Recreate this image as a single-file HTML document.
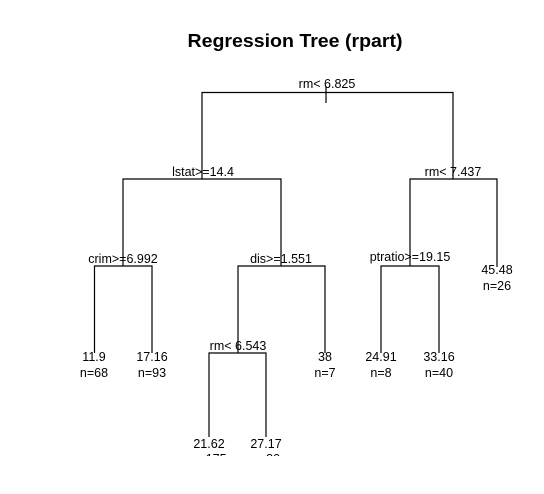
<!DOCTYPE html>
<html><head><meta charset="utf-8"><style>
html,body{margin:0;padding:0;background:#fff;}
svg{display:block;}
text{font-family:"Liberation Sans",Arial,sans-serif;font-size:12.5px;fill:#000;text-anchor:middle;}
</style></head><body>
<svg width="544" height="494" viewBox="0 0 544 494" xmlns="http://www.w3.org/2000/svg">
<rect width="544" height="494" fill="#fff"/>
<text x="295" y="47" style="font-size:18px;font-weight:bold" textLength="215" lengthAdjust="spacingAndGlyphs">Regression Tree (rpart)</text>
<g stroke="#000" stroke-width="1.2" fill="none">
<line x1="326" y1="86" x2="326" y2="103"/>
<path d="M202 179 V92.5 H453 V179"/>
<path d="M123 266 V179 H281 V266"/>
<path d="M410 266 V179 H497 V267"/>
<path d="M94.5 353 V266 H152 V353"/>
<path d="M238 353 V266 H325 V353"/>
<path d="M381 353 V266 H439 V353"/>
<path d="M209 437 V353 H266 V437"/>
</g>
<text x="327" y="88">rm&lt; 6.825</text>
<text x="203" y="176">lstat&gt;=14.4</text>
<text x="453" y="176">rm&lt; 7.437</text>
<text x="123" y="263">crim&gt;=6.992</text>
<text x="281" y="263">dis&gt;=1.551</text>
<text x="410" y="261">ptratio&gt;=19.15</text>
<text x="497" y="274">45.48</text>
<text x="497" y="290">n=26</text>
<text x="238" y="350">rm&lt; 6.543</text>
<text x="94" y="361">11.9</text>
<text x="94" y="377">n=68</text>
<text x="152" y="361">17.16</text>
<text x="152" y="377">n=93</text>
<text x="325" y="361">38</text>
<text x="325" y="377">n=7</text>
<text x="381" y="361">24.91</text>
<text x="381" y="377">n=8</text>
<text x="439" y="361">33.16</text>
<text x="439" y="377">n=40</text>
<text x="209" y="448">21.62</text>
<text x="266" y="448">27.17</text>
<text x="209" y="463">n=175</text>
<text x="266" y="463">n=80</text>
<rect x="0" y="456" width="544" height="38" fill="#fff"/>
</svg>
</body></html>
